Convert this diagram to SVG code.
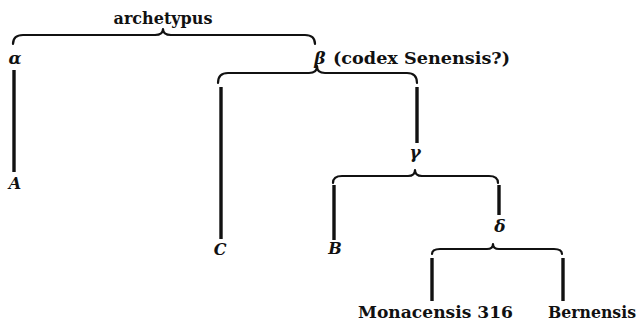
<svg xmlns="http://www.w3.org/2000/svg" width="642" height="323" viewBox="0 0 642 323">
<style>
text{font-family:"DejaVu Serif","Liberation Serif",serif;font-weight:bold;fill:#111}
.g{font-style:italic}
.brace{fill:none;stroke:#111;stroke-width:2.2;stroke-linecap:round;stroke-linejoin:round}
.stem{fill:none;stroke:#111;stroke-width:3.4;stroke-linecap:butt}
</style>
<rect width="642" height="323" fill="#fff"/>
<g id="connectors">
<path class="brace" d="M13,44 Q13,35 23,35 L155,35 Q163,35 163,29 Q163,35 171,35 L305,35 Q315,35 315,44"/>
<path class="brace" d="M218,83 Q218,73 228,73 L309,73 Q317,73 317,66 Q317,73 325,73 L407,73 Q417,73 417,83"/>
<path class="brace" d="M333,183 Q333,176 342,176 L408,176 Q415,176 415,170 Q415,176 422,176 L489,176 Q498,176 498,183"/>
<path class="brace" d="M432,254 Q432,249 440,249 L487,249 Q493,249 493,244 Q493,249 499,249 L554,249 Q562,249 562,254"/>
<line class="stem" x1="14" y1="70" x2="14" y2="172"/>
<line class="stem" x1="221" y1="87" x2="221" y2="239"/>
<line class="stem" x1="417" y1="87" x2="417" y2="143"/>
<line class="stem" x1="334" y1="185" x2="334" y2="240"/>
<line class="stem" x1="499" y1="185" x2="499" y2="215"/>
<line class="stem" x1="432" y1="258" x2="432" y2="301"/>
<line class="stem" x1="563" y1="258" x2="563" y2="301"/>
</g>
<g id="archetypus"><text x="163" y="24" font-size="16" text-anchor="middle">archetypus</text></g>
<g id="alpha"><text class="g" x="15" y="64" font-size="17" text-anchor="middle">α</text></g>
<g id="beta"><text class="g" x="320" y="64" font-size="17" text-anchor="middle">β</text><text x="333" y="64" font-size="17" textLength="177" lengthAdjust="spacingAndGlyphs">(codex Senensis?)</text></g>
<g id="A"><text class="g" x="15" y="189" font-size="16" text-anchor="middle">A</text></g>
<g id="C"><text class="g" x="220" y="255" font-size="16" text-anchor="middle">C</text></g>
<g id="gamma"><text class="g" x="415" y="158" font-size="17" text-anchor="middle">γ</text></g>
<g id="B"><text class="g" x="335" y="254" font-size="16" text-anchor="middle">B</text></g>
<g id="delta"><text class="g" x="500" y="232" font-size="17" text-anchor="middle">δ</text></g>
<g id="monacensis"><text x="358" y="318" font-size="17" textLength="155" lengthAdjust="spacingAndGlyphs">Monacensis 316</text></g>
<g id="bernensis"><text x="548" y="318" font-size="17" textLength="88" lengthAdjust="spacingAndGlyphs">Bernensis</text></g>
</svg>
